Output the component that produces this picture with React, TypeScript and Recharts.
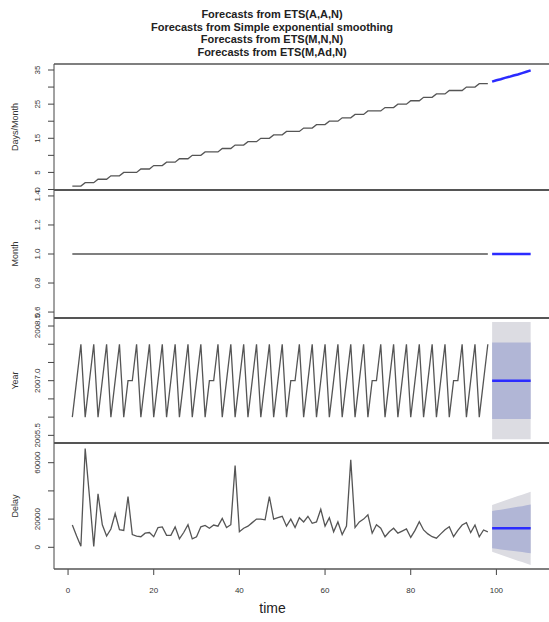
import React from "react";
import { ComposedChart, Line, Area, XAxis, YAxis } from "recharts";

// observed series, t = 1..98
const DAYS = [
  1, 1, 1, 2, 2, 2, 3, 3, 3, 4, 4, 4, 5, 5, 5, 5, 6, 6, 6, 7, 7, 7, 8, 8, 8, 9, 9, 9, 10, 10, 10,
  11, 11, 11, 11, 12, 12, 12, 13, 13, 13, 14, 14, 14, 15, 15, 15, 16, 16, 16, 17, 17, 17, 17,
  18, 18, 18, 19, 19, 19, 20, 20, 20, 21, 21, 21, 22, 22, 22, 23, 23, 23, 23, 24, 24, 24,
  25, 25, 25, 26, 26, 26, 27, 27, 27, 28, 28, 28, 29, 29, 29, 29, 30, 30, 30, 31, 31, 31,
];
const MONTH = [
  1, 1, 1, 1, 1, 1, 1, 1, 1, 1, 1, 1, 1, 1, 1, 1, 1, 1, 1, 1, 1, 1, 1, 1, 1, 1, 1, 1, 1, 1, 1,
  1, 1, 1, 1, 1, 1, 1, 1, 1, 1, 1, 1, 1, 1, 1, 1, 1, 1, 1, 1, 1, 1, 1, 1, 1, 1, 1, 1, 1, 1, 1,
  1, 1, 1, 1, 1, 1, 1, 1, 1, 1, 1, 1, 1, 1, 1, 1, 1, 1, 1, 1, 1, 1, 1, 1, 1, 1, 1, 1, 1, 1, 1,
  1, 1, 1, 1, 1,
];
const YEAR = [
  2006, 2007, 2008, 2006, 2007, 2008, 2006, 2007, 2008, 2006, 2007, 2008, 2006, 2007, 2007, 2008,
  2006, 2007, 2008, 2006, 2007, 2008, 2006, 2007, 2008, 2006, 2007, 2008, 2006, 2007, 2008,
  2006, 2007, 2007, 2008, 2006, 2007, 2008, 2006, 2007, 2008, 2006, 2007, 2008, 2006, 2007, 2008,
  2006, 2007, 2008, 2006, 2007, 2007, 2008, 2006, 2007, 2008, 2006, 2007, 2008, 2006, 2007, 2008,
  2006, 2007, 2008, 2006, 2007, 2008, 2006, 2007, 2007, 2008, 2006, 2007, 2008, 2006, 2007, 2008,
  2006, 2007, 2008, 2006, 2007, 2008, 2006, 2007, 2008, 2006, 2007, 2007, 2008, 2006, 2007, 2008,
  2006, 2007, 2008,
];
const DELAY = [
  15800, 8000, 800, 70000, 36000, 600, 38000, 16000, 8000, 13000, 24000, 12500, 12000, 36000,
  9000, 8000, 7500, 10000, 10500, 7500, 14000, 14500, 8500, 8500, 14500, 6000, 10500, 16000,
  6000, 7500, 14500, 15500, 13500, 15800, 15000, 20500, 14000, 16000, 58000, 11000, 13500,
  15000, 17500, 20000, 20000, 19500, 36000, 20000, 21000, 22000, 15000, 20000, 14000, 21000,
  18000, 22000, 17000, 18000, 27000, 15000, 21000, 11000, 18000, 9000, 15000, 62000, 14000,
  18000, 20000, 23000, 10000, 16000, 13500, 7500, 11000, 13500, 10000, 11500, 13000, 7000,
  12000, 18200, 12300, 9500, 7500, 6500, 9500, 12500, 14600, 7500, 12000, 15800, 17500, 10400,
  15800, 7500, 12300, 11000,
];

// forecasts, t = 99..108
const DAYS_FC = [31.6, 32.0, 32.3, 32.7, 33.0, 33.4, 33.7, 34.1, 34.5, 34.9];
const MONTH_FC = [1, 1, 1, 1, 1, 1, 1, 1, 1, 1];
const YEAR_FC = [2007, 2007, 2007, 2007, 2007, 2007, 2007, 2007, 2007, 2007];
const YEAR_LO80 = [2005.95, 2005.95, 2005.95, 2005.95, 2005.95, 2005.95, 2005.95, 2005.95, 2005.95, 2005.95];
const YEAR_HI80 = [2008.05, 2008.05, 2008.05, 2008.05, 2008.05, 2008.05, 2008.05, 2008.05, 2008.05, 2008.05];
const YEAR_LO95 = [2005.39, 2005.39, 2005.39, 2005.39, 2005.39, 2005.39, 2005.39, 2005.39, 2005.39, 2005.39];
const YEAR_HI95 = [2008.61, 2008.61, 2008.61, 2008.61, 2008.61, 2008.61, 2008.61, 2008.61, 2008.61, 2008.61];
const DELAY_FC = [13500, 13500, 13500, 13500, 13500, 13500, 13500, 13500, 13500, 13500];
const DELAY_LO80 = [-700, -1100, -1500, -1900, -2300, -2700, -3000, -3400, -3800, -4200];
const DELAY_HI80 = [25700, 26200, 26700, 27200, 27700, 28200, 28700, 29200, 29800, 30400];
const DELAY_LO95 = [-3100, -4200, -5300, -6300, -7400, -8400, -9500, -10500, -11500, -12500];
const DELAY_HI95 = [30000, 31100, 32200, 33200, 34300, 35300, 36300, 37300, 38400, 39400];

const TITLES = [
  "Forecasts from ETS(A,A,N)",
  "Forecasts from Simple exponential smoothing",
  "Forecasts from ETS(M,N,N)",
  "Forecasts from ETS(M,Ad,N)",
];
const X_TICKS = [0, 20, 40, 60, 80, 100];

const FONT = "'Liberation Sans', Arial, Helvetica, sans-serif";
const X_DOMAIN: [number, number] = [-3.28, 112.28];

function buildRows(hist: number[], fc: number[], lo80?: number[], hi80?: number[], lo95?: number[], hi95?: number[]) {
  const rows: any[] = hist.map((v, i) => ({ t: i + 1, v }));
  fc.forEach((f, i) => {
    rows.push({
      t: hist.length + i + 1,
      f,
      b80: lo80 && hi80 ? [lo80[i], hi80[i]] : undefined,
      b95: lo95 && hi95 ? [lo95[i], hi95[i]] : undefined,
    });
  });
  return rows;
}

const PANELS = [
  {
    name: "Days/Month",
    top: 64,
    height: 126,
    domain: [-0.15, 36.76],
    ticks: [0, 5, 10, 15, 20, 25, 30, 35],
    labels: { 0: "0", 5: "5", 15: "15", 25: "25", 35: "35" } as Record<number, string>,
    rows: buildRows(DAYS, DAYS_FC),
  },
  {
    name: "Month",
    top: 190,
    height: 128,
    domain: [0.559, 1.441],
    ticks: [0.6, 0.8, 1.0, 1.2, 1.4],
    labels: { 0.6: "0.6", 0.8: "0.8", 1: "1.0", 1.2: "1.2", 1.4: "1.4" } as Record<number, string>,
    rows: buildRows(MONTH, MONTH_FC),
  },
  {
    name: "Year",
    top: 318,
    height: 125,
    domain: [2005.29, 2008.72],
    ticks: [2005.5, 2006, 2006.5, 2007, 2007.5, 2008, 2008.5],
    labels: { 2005.5: "2005.5", 2007: "2007.0", 2008.5: "2008.5" } as Record<number, string>,
    rows: buildRows(YEAR, YEAR_FC, YEAR_LO80, YEAR_HI80, YEAR_LO95, YEAR_HI95),
  },
  {
    name: "Delay",
    top: 443,
    height: 126,
    domain: [-15390, 73970],
    ticks: [0, 20000, 40000, 60000],
    labels: { 0: "0", 20000: "20000", 60000: "60000" } as Record<number, string>,
    rows: buildRows(DELAY, DELAY_FC, DELAY_LO80, DELAY_HI80, DELAY_LO95, DELAY_HI95),
  },
];

const Panel = ({ p, last }: { p: (typeof PANELS)[number]; last: boolean }) => {
  const yTick = (props: any) => {
    const { y, payload } = props;
    const txt = p.labels[payload.value];
    if (!txt) return <g />;
    return (
      <text
        transform={`translate(37.5, ${y}) rotate(-90)`}
        textAnchor="middle"
        dy="0.35em"
        fontSize={8}
        fontFamily={FONT}
        fill="#333"
      >
        {txt}
      </text>
    );
  };
  const xTick = (props: any) => {
    const { x, payload } = props;
    return (
      <text x={x} y={p.height + 24} textAnchor="middle" fontSize={8} fontFamily={FONT} fill="#333">
        {payload.value}
      </text>
    );
  };
  return (
    <div style={{ position: "absolute", left: 0, top: p.top }}>
      <ComposedChart
        width={549}
        height={p.height + (last ? 53 : 0)}
        data={p.rows}
        margin={{ top: 0, right: 0, bottom: 0, left: 0 }}
      >
        <XAxis
          type="number"
          dataKey="t"
          domain={X_DOMAIN}
          allowDataOverflow
          hide={!last}
          ticks={X_TICKS}
          interval={0}
          height={53}
          tickSize={6}
          axisLine={false}
          tickLine={{ stroke: "#444" }}
          tick={xTick}
        />
        <YAxis
          type="number"
          domain={p.domain}
          allowDataOverflow
          ticks={p.ticks}
          interval={0}
          width={54}
          tickSize={6}
          axisLine={{ stroke: "#444" }}
          tickLine={{ stroke: "#444" }}
          tick={yTick}
        />
        <Area dataKey="b95" type="linear" fill="#dcdce2" fillOpacity={1} stroke="none" isAnimationActive={false} />
        <Area dataKey="b80" type="linear" fill="#b1b6d6" fillOpacity={1} stroke="none" isAnimationActive={false} />
        <Line dataKey="v" type="linear" stroke="#555" strokeWidth={1.3} dot={false} isAnimationActive={false} />
        <Line dataKey="f" type="linear" stroke="#2b2bff" strokeWidth={2.5} dot={false} isAnimationActive={false} />
      </ComposedChart>
    </div>
  );
};

export default function App() {
  return (
    <div style={{ position: "absolute", left: 0, top: 0, width: 549, height: 622, background: "#fff", overflow: "hidden" }}>
      <style>{`.recharts-surface{overflow:visible}`}</style>
      {PANELS.map((p, i) => (
        <Panel key={p.name} p={p} last={i === PANELS.length - 1} />
      ))}
      <svg width={549} height={622} style={{ position: "absolute", left: 0, top: 0, pointerEvents: "none" }}>
        {TITLES.map((t, i) => (
          <text key={t} x={272} y={18 + i * 12.5} textAnchor="middle" fontSize={11} fontWeight="bold" fontFamily={FONT} fill="#222">
            {t}
          </text>
        ))}
        {PANELS.map((p) => (
          <text
            key={p.name}
            transform={`translate(14.5, ${p.top + p.height / 2}) rotate(-90)`}
            textAnchor="middle"
            dy="0.35em"
            fontSize={9}
            fontFamily={FONT}
            fill="#333"
          >
            {p.name}
          </text>
        ))}
        <line x1={54} x2={549} y1={64} y2={64} stroke="#555" strokeWidth={1.5} />
        <line x1={54} x2={549} y1={190} y2={190} stroke="#555" strokeWidth={2} />
        <line x1={54} x2={549} y1={318} y2={318} stroke="#555" strokeWidth={2} />
        <line x1={54} x2={549} y1={443} y2={443} stroke="#555" strokeWidth={2} />
        <line x1={54} x2={549} y1={569} y2={569} stroke="#555" strokeWidth={1.5} />
        <text x={272.5} y={613} textAnchor="middle" fontSize={14} fontFamily={FONT} fill="#222">
          time
        </text>
      </svg>
    </div>
  );
}
